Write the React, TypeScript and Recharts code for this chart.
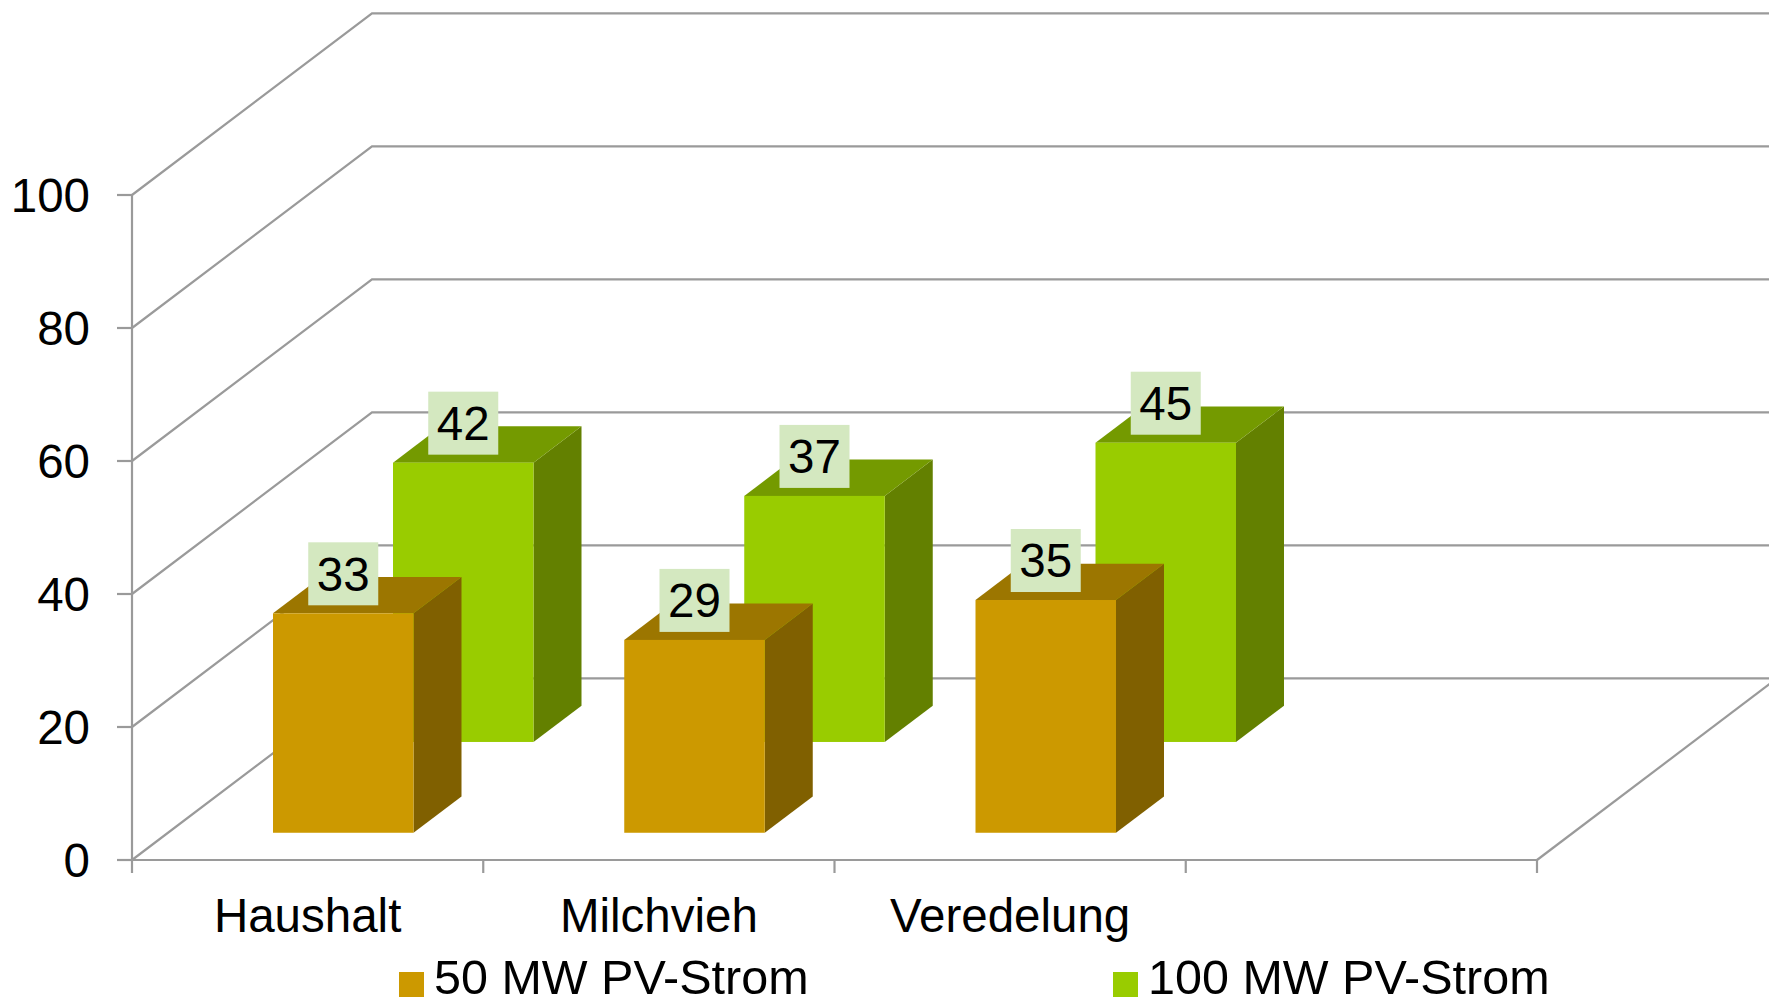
import React from 'react';
import { ComposedChart, Bar, XAxis, YAxis, CartesianGrid, Legend } from 'recharts';

// chart data
const categories = ['Haushalt', 'Milchvieh', 'Veredelung', ''];
const pv50 = [33, 29, 35, null];
const pv100 = [42, 37, 45, null];
const yTicks = [0, 20, 40, 60, 80, 100];
const seriesNames = ['50 MW PV-Strom', '100 MW PV-Strom'];

const data = categories.map((name, i) => ({ name, pv50: pv50[i], pv100: pv100[i] }));

const W = 1769;
const H = 1005;
const MARGIN = { top: 195, right: 232, bottom: 85, left: 0 };
const Y_AXIS_W = 132;
const X_AXIS_H = 60;
const PLOT_W = W - MARGIN.left - MARGIN.right - Y_AXIS_W;
const BAR_W = (PLOT_W / categories.length) * 0.4;

// oblique projection of the full floor depth
const DEPTH_X = 240;
const DEPTH_Y = -181.6;
const BAR_DEPTH = 0.2;

const FONT = '"Liberation Sans", Arial, sans-serif';
const FONT_SIZE = 47.5;
const LEGEND_FONT_SIZE = 48.5;
const GRID = '#9a9a9a';
const X_TICK_SIZE = 13;
const X_TICK_MARGIN = 25;

const colors50 = { front: '#cc9900', top: '#9c7600', side: '#806000' };
const colors100 = { front: '#99cc00', top: '#749a00', side: '#638000' };
const colorsLegend = [colors50.front, colors100.front];

const renderGridLine = (props: any) => {
  const { x1, y1 } = props;
  const pts = `${x1},${y1} ${x1 + DEPTH_X},${y1 + DEPTH_Y} ${W},${y1 + DEPTH_Y}`;
  return <polyline key={props.key ?? `g-${y1}`} points={pts} fill="none" stroke={GRID} strokeWidth={2.2} />;
};

const make3DBar = (depthFront: number, c: any, dataKey: string) => (props: any) => {
  const { x, y, width, height, payload } = props;
  const v = payload ? payload[dataKey] : null;
  if (v == null || !width) return <g />;
  const ox = x + DEPTH_X * depthFront;
  const oy = y + DEPTH_Y * depthFront;
  const tx = DEPTH_X * BAR_DEPTH;
  const ty = DEPTH_Y * BAR_DEPTH;
  const top = `${ox},${oy} ${ox + width},${oy} ${ox + width + tx},${oy + ty} ${ox + tx},${oy + ty}`;
  const side = `${ox + width},${oy} ${ox + width + tx},${oy + ty} ${ox + width + tx},${oy + height + ty} ${ox + width},${oy + height}`;
  const cx = ox + width / 2;
  const boxW = 70;
  const boxH = 63;
  const boxBottom = oy - 8;
  return (
    <g>
      <polygon points={side} fill={c.side} />
      <polygon points={top} fill={c.top} />
      <rect x={ox} y={oy} width={width} height={height} fill={c.front} />
      <rect x={cx - boxW / 2} y={boxBottom - boxH} width={boxW} height={boxH} fill="#d4e8c0" />
      <text
        x={cx}
        y={boxBottom - boxH / 2}
        dy="0.355em"
        textAnchor="middle"
        fontSize={FONT_SIZE}
        fontFamily={FONT}
        fill="#000"
      >
        {v}
      </text>
    </g>
  );
};

const CategoryTick = (props: any) => {
  const { x, y, payload, index } = props;
  const half = payload && payload.offset ? payload.offset : PLOT_W / categories.length / 2;
  const axisY = y - X_TICK_SIZE - X_TICK_MARGIN;
  const last = index === categories.length - 1;
  return (
    <g>
      <line x1={x - half} y1={axisY} x2={x - half} y2={axisY + X_TICK_SIZE} stroke={GRID} strokeWidth={2.2} />
      {last && (
        <>
          <line x1={x + half} y1={axisY} x2={x + half} y2={axisY + X_TICK_SIZE} stroke={GRID} strokeWidth={2.2} />
          <line x1={x + half} y1={axisY} x2={x + half + DEPTH_X} y2={axisY + DEPTH_Y} stroke={GRID} strokeWidth={2.2} />
        </>
      )}
      <text x={x} y={y} dy="0.71em" textAnchor="middle" fontSize={FONT_SIZE} fontFamily={FONT} fill="#000">
        {payload.value}
      </text>
    </g>
  );
};

const LegendContent = () => (
  <div style={{ position: 'relative', height: 44, fontFamily: FONT, fontSize: LEGEND_FONT_SIZE, color: '#000' }}>
    {seriesNames.map((name, i) => (
      <div
        key={name}
        style={{
          position: 'absolute',
          left: i === 0 ? 399 : 1113,
          top: 0,
          height: 44,
          lineHeight: '44px',
          display: 'flex',
          alignItems: 'center',
          whiteSpace: 'nowrap',
        }}
      >
        <span
          style={{
            display: 'inline-block',
            width: 25,
            height: 25,
            background: colorsLegend[i],
            marginRight: 10,
            position: 'relative',
            top: 7,
          }}
        />
        <span>{name}</span>
      </div>
    ))}
  </div>
);

export default function App() {
  return (
    <div style={{ position: 'fixed', left: 0, top: 0, width: W, height: H, overflow: 'hidden', background: '#fff' }}>
      <ComposedChart
        width={W}
        height={H}
        data={data}
        margin={MARGIN}
        barSize={BAR_W}
        barGap={-BAR_W}
      >
        <CartesianGrid horizontal={renderGridLine} vertical={false} />
        <XAxis
          dataKey="name"
          type="category"
          height={X_AXIS_H}
          interval={0}
          axisLine={{ stroke: GRID, strokeWidth: 2.2 }}
          tickLine={false}
          tickSize={X_TICK_SIZE}
          tickMargin={X_TICK_MARGIN}
          tick={<CategoryTick />}
        />
        <YAxis
          type="number"
          domain={[0, 100]}
          ticks={yTicks}
          width={Y_AXIS_W}
          axisLine={{ stroke: GRID, strokeWidth: 2.2 }}
          tickLine={{ stroke: GRID, strokeWidth: 2.2 }}
          tickSize={15}
          tickMargin={27}
          tick={{ fontSize: FONT_SIZE, fontFamily: FONT, fill: '#000' }}
        />
        <Bar
          dataKey="pv100"
          name={seriesNames[1]}
          fill={colors100.front}
          shape={make3DBar(0.65, colors100, 'pv100')}
          isAnimationActive={false}
        />
        <Bar
          dataKey="pv50"
          name={seriesNames[0]}
          fill={colors50.front}
          shape={make3DBar(0.15, colors50, 'pv50')}
          isAnimationActive={false}
        />
        <Legend
          layout="horizontal"
          verticalAlign="middle"
          align="center"
          wrapperStyle={{ left: 0, top: 955, width: W, height: 44 }}
          content={<LegendContent />}
        />
      </ComposedChart>
    </div>
  );
}
